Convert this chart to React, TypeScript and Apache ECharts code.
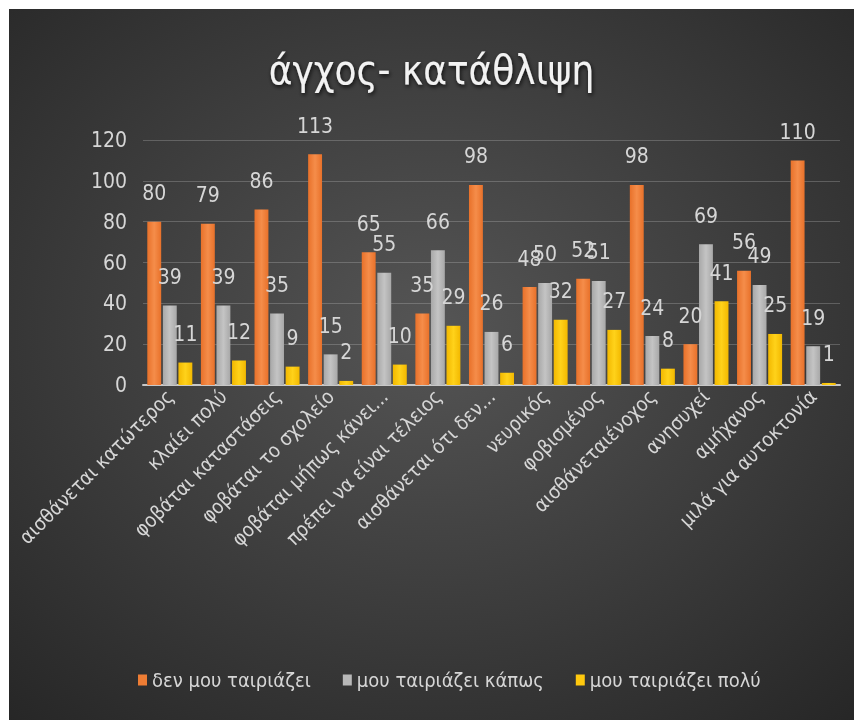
import React, { useEffect, useRef } from "react";
import * as echarts from "echarts";

const categories = [
  "αισθάνεται κατώτερος",
  "κλαίει πολύ",
  "φοβάται καταστάσεις",
  "φοβάται το σχολείο",
  "φοβάται μήπως κάνει...",
  "πρέπει να είναι τέλειος",
  "αισθάνεται ότι δεν...",
  "νευρικός",
  "φοβισμένος",
  "αισθάνεταιένοχος",
  "ανησυχεί",
  "αμήχανος",
  "μιλά για αυτοκτονία",
];
const seriesNames = ["δεν μου ταιριάζει", "μου ταιριάζει κάπως", "μου ταιριάζει πολύ"];
const notFit = [80, 79, 86, 113, 65, 35, 98, 48, 52, 98, 20, 56, 110];
const somewhatFit = [39, 39, 35, 15, 55, 66, 26, 50, 51, 24, 69, 49, 19];
const fitsMuch = [11, 12, 9, 2, 10, 29, 6, 32, 27, 8, 41, 25, 1];
const yTicks = { min: 0, max: 120, interval: 20 };

const FONT = '"Liberation Sans Narrow", "DejaVu Sans Condensed", "Liberation Sans", sans-serif';
const TXT = "#d6d6d6";

export default function App() {
  const ref = useRef<HTMLDivElement>(null);
  useEffect(() => {
    if (!ref.current) return;
    const chart = echarts.init(ref.current, undefined, { renderer: "svg" });
    const grad = (a: string, b: string) =>
      new echarts.graphic.LinearGradient(0, 0, 1, 0, [
        { offset: 0, color: a },
        { offset: 0.5, color: b },
        { offset: 1, color: a },
      ]);
    const colors = [grad("#e8712a", "#f58d4a"), grad("#a8a8a8", "#c4c4c4"), grad("#f2b800", "#ffd21a")];
    const legendColors = ["#ee7d34", "#b8b8b8", "#ffc90e"];
    const datasets = [notFit, somewhatFit, fitsMuch];
    chart.setOption({
      animation: false,
      backgroundColor: new echarts.graphic.RadialGradient(0.5, 0.45, 0.75, [
        { offset: 0, color: "#555555" },
        { offset: 1, color: "#262626" },
      ]),
      title: {
        text: "άγχος- κατάθλιψη",
        left: "center",
        top: 36,
        textStyle: {
          color: "#f2f2f2",
          fontFamily: FONT,
          fontSize: 40,
          fontWeight: "normal",
          textShadowColor: "rgba(0,0,0,0.8)",
          textShadowBlur: 4,
          textShadowOffsetX: 1,
          textShadowOffsetY: 2,
        },
      },
      legend: {
        top: 656,
        left: 124,
        itemWidth: 9,
        itemHeight: 11,
        itemGap: 32,
        icon: "rect",
        textStyle: { color: TXT, fontFamily: FONT, fontSize: 20 },
        data: seriesNames.map((n, i) => ({ name: n, itemStyle: { color: legendColors[i] } })),
      },
      grid: { left: 134, right: 14, top: 131, bottom: 335, containLabel: false },
      xAxis: {
        type: "category",
        data: categories,
        axisLine: { lineStyle: { color: "#c8c8c8", width: 2 } },
        axisTick: { show: false },
        axisLabel: {
          interval: 0,
          rotate: 45,
          color: TXT,
          fontFamily: FONT,
          fontSize: 20,
          margin: 8,
        },
      },
      yAxis: {
        type: "value",
        min: yTicks.min,
        max: yTicks.max,
        interval: yTicks.interval,
        axisLine: { show: false },
        axisTick: { show: false },
        splitLine: { lineStyle: { color: "rgba(200,200,200,0.28)", width: 1 } },
        axisLabel: { color: TXT, fontFamily: FONT, fontSize: 21, margin: 16 },
      },
      series: datasets.map((d, i) => ({
        name: seriesNames[i],
        type: "bar",
        data: d,
        barGap: "12%",
        barCategoryGap: "16%",
        itemStyle: { color: colors[i] },
        label: {
          show: true,
          position: "top",
          distance: 18,
          color: TXT,
          fontFamily: FONT,
          fontSize: 21,
        },
      })),
    });
    return () => chart.dispose();
  }, []);
  return (
    <div
      ref={ref}
      style={{ position: "fixed", left: 9, top: 9, width: 845, height: 711 }}
    />
  );
}
